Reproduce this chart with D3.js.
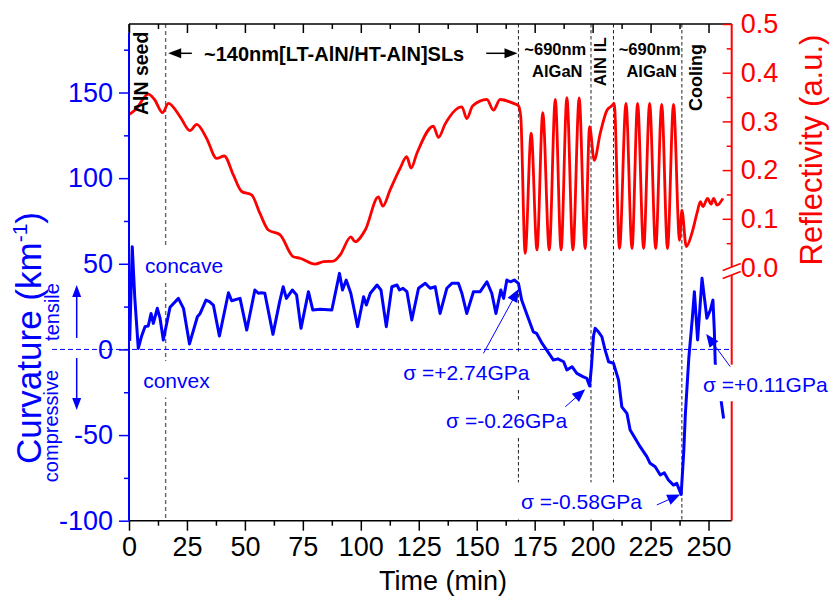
<!DOCTYPE html>
<html><head><meta charset="utf-8">
<script src="https://cdn.jsdelivr.net/npm/d3@7"></script>
<style>
body{margin:0;background:#fff}
svg{display:block}
text{font-family:"Liberation Sans",Arial,Helvetica,sans-serif}
</style>
</head><body>
<svg id="chart" width="831" height="601"></svg>
<script>
// In-situ wafer curvature (km^-1) versus growth time (min)
const curvTime = [0.3,1.4,2.5,4,5.5,6.9,8.3,9.5,10.5,12.2,13.4,14.8,17.7,21.3,23.5,26.1,29.5,30.7,33.2,34.7,36.4,39,42.9,44.3,47.9,50.8,54.3,55.8,57.1,58.6,62.1,65,66.5,67.9,70.5,72.3,74.2,77.4,79.3,82.5,87.5,90.8,92.1,93.7,95.7,98.6,101.2,102.4,104.1,107,108.7,111,113.4,115.6,116.7,118.2,119.9,122,124.9,127.8,129.9,132.1,134.2,137.1,139.3,142.1,143.6,145.7,148.6,151.5,154.4,156.5,158.3,160.4,161.6,163,164.5,166.2,168,169.4,171.5,174.4,175.8,178,180.2,183.1,185,187.5,188.9,191.1,193.2,195.8,197.5,198.7,199.5,200.4,201.1,202.5,204,205.4,206.9,209,211.2,212.6,214.8,216.2,220.5,223.4,224.8,227,229.2,230.9,232.7,234.9,236.3,238.2,239.3,240,241.5,243,243.9,245.3,247.2,249.3,250.8,251.9,252.5,252.9,255.5,256.5];
const curvValue = [5,60,30,0.6,8,13.3,13.7,21,15.2,24,18.2,5.5,24.6,29.8,24,3.2,19.1,21,28.8,27.9,25.9,7.8,33.1,28.4,29.8,11.3,34.7,32.8,33.1,32.8,8.8,27.9,36.6,29.8,34.7,31.8,12.3,33.7,23,23.4,23,44.4,34.7,40.5,32.8,13.3,30.8,25.9,32.8,37.6,34.7,13.3,36.6,37.6,34.7,35.7,33.7,17.2,35.7,38.6,35.7,36.6,21,35.7,38.6,38.6,32.8,21,33.7,33.7,39.5,32.8,21,34.7,29.8,40.5,39.5,40.5,38.6,28.8,21,10.3,9.4,4,-0.4,-6.2,-5.5,-7.2,-12,-10.1,-14,-15.9,-16.9,-21.4,-10,8,12.3,10.3,7.4,-0.4,-7.2,-8.1,-17.9,-33.5,-37.3,-47.1,-56.8,-62.6,-66.5,-68.5,-73.3,-72,-76.2,-79.2,-78.2,-84.6,-60,-38,-5,18,33.7,5.5,41.5,18.2,23,28.8,11.3,-8.1,-30.5,-40.3];

// Reflectivity (a.u.) versus growth time (min)
const reflTime = [0,3,8.3,11,14.5,17,22,26.3,29.2,33.5,37.8,41.1,45,48.6,52.9,56.5,60.1,65.2,70.9,73.8,80.3,83.9,88.2,91.1,95.7,97.5,101.9,107.6,109.5,112.6,117,119.8,121.7,124.2,131.3,133.5,136.4,143.6,145.7,148.3,154.4,157.2,160.1,165.9,168,169,170.9,173.5,176,178.5,181.3,183.9,186.4,188.9,191.5,194.2,196.8,198.7,200.7,203.3,206.2,208.3,209.3,211.6,214.4,217,219.4,222,224.6,227.2,229.8,232.3,234.9,237.5,238.5,240.4,242.8,245,246.5,247.6,249.6,251.1,252.2,253.7,256.2];
const reflValue = [0.314,0.325,0.356,0.345,0.318,0.337,0.31,0.281,0.294,0.265,0.224,0.229,0.19,0.156,0.149,0.111,0.077,0.067,0.022,0.019,0.007,0.012,0.013,0.026,0.063,0.053,0.077,0.145,0.126,0.159,0.204,0.2275,0.204,0.2345,0.29,0.267,0.295,0.33,0.306,0.332,0.345,0.323,0.345,0.337,0.332,0.31,0.029,0.276,0.036,0.318,0.036,0.345,0.036,0.349,0.036,0.348,0.039,0.289,0.22,0.276,0.323,0.332,0.337,0.039,0.337,0.039,0.337,0.039,0.337,0.039,0.335,0.039,0.335,0.056,0.118,0.043,0.07,0.111,0.135,0.125,0.142,0.13,0.142,0.128,0.142];

// Tick values
const timeTicks = [0,25,50,75,100,125,150,175,200,225,250];
const timeMinor = [12.5,37.5,62.5,87.5,112.5,137.5,162.5,187.5,212.5,237.5];
const curvTicks = [-100,-50,0,50,100,150];
const curvMinor = [-75,-25,25,75,125,175];
const reflTicks = [0,0.1,0.2,0.3,0.4,0.5];
const reflMinor = [0.05,0.15,0.25,0.35,0.45];

// Growth stage boundaries (min)
const stageBounds = [15.8,168,199.3,209,238.5];

// Stress labels: text, anchor (time, curvature), arrow tail and head
const stressText = ["σ =+2.74GPa","σ =-0.26GPa","σ =-0.58GPa","σ =+0.11GPa"];
const stressAt   = [[118.3,-17.9],[136.8,-45.7],[169.1,-93.4],[247.6,-24.7]];
const stressTail = [[152.9,-2.3],[188.2,-33.5],[227.7,-90.8],[259.4,-10.1]];
const stressHead = [[168.1,35.3],[196.8,-23.3],[237.8,-84.7],[249,9]];

const blue = "#0000ff", red = "#ff0000";
const svg = d3.select("#chart");

const x  = d3.scaleLinear().domain([0,260]).range([129,731.7]);
const yC = d3.scaleLinear().domain([-100,190]).range([520.7,24]);
const yR = d3.scaleLinear().domain([0,0.5]).range([267.5,24]);
const plotTop = 24, plotBottom = 520.7, plotLeft = x(0), plotRight = x(260);
const plain = d => String(d);   // hyphen-minus for negative ticks

// stage boundary lines
stageBounds.forEach((t,i)=>{
  svg.append("line").attr("x1",x(t)).attr("x2",x(t)).attr("y1",plotTop).attr("y2",plotBottom)
    .attr("stroke", i===0 ? "#666" : "#222").attr("stroke-width", i===0 ? 1.4 : 1)
    .attr("stroke-dasharray", i===0 ? "4,3" : "3.5,2.5");
});

// zero curvature reference
svg.append("line").attr("x1",52).attr("x2",plotRight).attr("y1",yC(0)).attr("y2",yC(0))
  .attr("stroke",blue).attr("stroke-width",1).attr("stroke-dasharray","5,3");

// reflectivity trace
const reflData = reflTime.map((t,i)=>[t,reflValue[i]]);
svg.append("path").datum(reflData)
  .attr("fill","none").attr("stroke",red).attr("stroke-width",2.8).attr("stroke-linejoin","round")
  .attr("d", d3.line().x(d=>x(d[0])).y(d=>yR(d[1])).curve(d3.curveMonotoneX));

// curvature trace
const curvData = curvTime.map((t,i)=>[t,curvValue[i]]);
svg.append("path").datum(curvData)
  .attr("fill","none").attr("stroke",blue).attr("stroke-width",3).attr("stroke-linejoin","round")
  .attr("d", d3.line().x(d=>x(d[0])).y(d=>yC(d[1])));

function arrow(g,x1,y1,x2,y2,color,len,hw,w){
  const dx=x2-x1, dy=y2-y1, L=Math.hypot(dx,dy), ux=dx/L, uy=dy/L;
  const bx=x2-ux*len, by=y2-uy*len;
  g.append("line").attr("x1",x1).attr("y1",y1).attr("x2",bx+ux*1).attr("y2",by+uy*1)
    .attr("stroke",color).attr("stroke-width",w);
  g.append("path").attr("d",`M${x2},${y2}L${bx-uy*hw},${by+ux*hw}L${bx+uy*hw},${by-ux*hw}Z`)
    .attr("fill",color);
}

// ---- axes ----
// frame top
svg.append("line").attr("x1",plotLeft).attr("x2",plotRight).attr("y1",plotTop).attr("y2",plotTop).attr("stroke","#000").attr("stroke-width",1.5);
const topAx = svg.append("g").attr("transform",`translate(0,${plotTop})`)
  .call(d3.axisTop(x).tickValues(timeTicks).tickSize(-9).tickFormat(""));
const topMin = svg.append("g").attr("transform",`translate(0,${plotTop})`)
  .call(d3.axisTop(x).tickValues(timeMinor).tickSize(-5).tickFormat(""));
[topAx,topMin].forEach(g=>{g.select(".domain").remove();g.selectAll("line").attr("stroke","#000").attr("stroke-width",1.5);});

// bottom
const botAx = svg.append("g").attr("transform",`translate(0,${plotBottom})`)
  .call(d3.axisBottom(x).tickValues(timeTicks).tickSize(10).tickPadding(6).tickFormat(plain));
const botMin = svg.append("g").attr("transform",`translate(0,${plotBottom})`)
  .call(d3.axisBottom(x).tickValues(timeMinor).tickSize(5).tickFormat(""));
[botAx,botMin].forEach(g=>{g.select(".domain").remove();g.selectAll("line").attr("stroke","#000").attr("stroke-width",1.5);});
botAx.selectAll("text").attr("font-size",27).attr("fill","#000").attr("font-family","'Liberation Sans',Arial,sans-serif");
svg.append("line").attr("x1",plotLeft).attr("x2",plotRight).attr("y1",plotBottom).attr("y2",plotBottom).attr("stroke","#000").attr("stroke-width",1.5);

// left (curvature)
svg.append("line").attr("x1",plotLeft).attr("x2",plotLeft).attr("y1",plotTop).attr("y2",yC(185)).attr("stroke","#000").attr("stroke-width",1.5);
svg.append("line").attr("x1",plotLeft).attr("x2",plotLeft).attr("y1",yC(185)).attr("y2",plotBottom).attr("stroke",blue).attr("stroke-width",2);
const lAx = svg.append("g").attr("transform",`translate(${plotLeft},0)`)
  .call(d3.axisLeft(yC).tickValues(curvTicks).tickSize(10).tickPadding(6).tickFormat(plain));
const lMin = svg.append("g").attr("transform",`translate(${plotLeft},0)`)
  .call(d3.axisLeft(yC).tickValues(curvMinor).tickSize(5).tickFormat(""));
[lAx,lMin].forEach(g=>{g.select(".domain").remove();g.selectAll("line").attr("stroke",blue).attr("stroke-width",1.5);});
lAx.selectAll("text").attr("font-size",27).attr("fill",blue).attr("font-family","'Liberation Sans',Arial,sans-serif");

// right (reflectivity) with axis break at zero
const brk = 271;
svg.append("line").attr("x1",plotRight).attr("x2",plotRight).attr("y1",plotTop).attr("y2",brk-4).attr("stroke",red).attr("stroke-width",2);
svg.append("line").attr("x1",plotRight).attr("x2",plotRight).attr("y1",brk+4).attr("y2",plotBottom).attr("stroke",red).attr("stroke-width",2);
[-4,4].forEach(o=>{
  svg.append("line").attr("x1",plotRight-9).attr("y1",brk+o+3.5).attr("x2",plotRight+9).attr("y2",brk+o-3.5)
    .attr("stroke",red).attr("stroke-width",1.5);
});
const rAx = svg.append("g").attr("transform",`translate(${plotRight},0)`)
  .call(d3.axisRight(yR).tickValues(reflTicks.filter(v=>v>0)).tickSize(-9).tickPadding(9).tickFormat(d3.format(".1f")));
const rZero = svg.append("g").attr("transform",`translate(${plotRight},0)`)
  .call(d3.axisRight(yR).tickValues([0]).tickSize(0).tickPadding(9).tickFormat(d3.format(".1f")));
const rMin = svg.append("g").attr("transform",`translate(${plotRight},0)`)
  .call(d3.axisRight(yR).tickValues(reflMinor).tickSize(-5).tickFormat(""));
[rAx,rZero,rMin].forEach(g=>{g.select(".domain").remove();g.selectAll("line").attr("stroke",red).attr("stroke-width",1.5);});
[rAx,rZero].forEach(g=>g.selectAll("text").attr("font-size",27).attr("fill",red).attr("font-family","'Liberation Sans',Arial,sans-serif"));

// ---- labels on white boxes (above the axes so the boxes mask what lies behind) ----
function boxedLabel(txt,px,py,fs,color){
  const g = svg.append("g");
  const r = g.append("rect").attr("fill","#fff");
  const t = g.append("text").attr("x",px).attr("y",py).attr("font-size",fs).attr("fill",color).text(txt);
  const w = t.node().getComputedTextLength();
  r.attr("x",px-4).attr("width",w+8).attr("y",py-0.716*fs-12).attr("height",0.716*fs+21.5);
  return g;
}

boxedLabel("concave", x(6.9), yC(44.6), 21, blue);
boxedLabel("convex", x(6.1), yC(-22.5), 21, blue);

stressText.forEach((s,i)=>{
  boxedLabel(s, x(stressAt[i][0]), yC(stressAt[i][1]), 21, blue);
});
stressText.forEach((s,i)=>{
  arrow(svg, x(stressTail[i][0]), yC(stressTail[i][1]), x(stressHead[i][0]), yC(stressHead[i][1]), blue, 13, 5.5, 1);
});

// ---- axis titles ----
svg.append("text").attr("x",443).attr("y",590).attr("text-anchor","middle").attr("font-size",27).attr("fill","#000").text("Time (min)");

const lt = svg.append("text").attr("transform","translate(41,338) rotate(-90)").attr("text-anchor","middle")
  .attr("font-size",35).attr("fill",blue);
lt.append("tspan").text("Curvature (km");
lt.append("tspan").attr("font-size",21).attr("dy",-14).text("-1");
lt.append("tspan").attr("dy",14).text(")");

svg.append("text").attr("transform","translate(822,150) rotate(-90)").attr("text-anchor","middle")
  .attr("font-size",31).attr("fill",red).text("Reflectivity (a.u.)");

// tensile / compressive
svg.append("text").attr("transform","translate(59,312) rotate(-90)").attr("text-anchor","middle")
  .attr("font-size",20).attr("fill",blue).text("tensile");
svg.append("text").attr("transform","translate(58,426) rotate(-90)").attr("text-anchor","middle")
  .attr("font-size",20).attr("fill",blue).text("compressive");
arrow(svg, 76.7, 338, 76.7, 285, blue, 12, 4.5, 1.5);
arrow(svg, 76.7, 358, 76.7, 410, blue, 12, 4.5, 1.5);

// ---- growth stage labels ----
svg.append("text").attr("transform","translate(148,73.4) rotate(-90)").attr("text-anchor","middle")
  .attr("font-size",19.5).attr("font-weight","bold").attr("fill","#000").text("AlN seed");
svg.append("text").attr("x",204).attr("y",61).attr("font-size",20).attr("font-weight","bold").attr("fill","#000")
  .text("~140nm[LT-AlN/HT-AlN]SLs");
arrow(svg, x(27.1), 53.3, x(16.9), 53.3, "#000", 13, 5, 1.5);
arrow(svg, x(154.1), 53.3, x(167.6), 53.3, "#000", 13, 5, 1.5);

[183.9,224.6].forEach(c=>{
  svg.append("text").attr("x",x(c)).attr("y",55).attr("text-anchor","middle").attr("font-size",16.5)
    .attr("font-weight","bold").attr("fill","#000").text("~690nm");
  svg.append("text").attr("x",x(c)+2).attr("y",77.3).attr("text-anchor","middle").attr("font-size",16.5)
    .attr("font-weight","bold").attr("fill","#000").text("AlGaN");
});
svg.append("text").attr("transform","translate(606,61.7) rotate(-90)").attr("text-anchor","middle")
  .attr("font-size",17).attr("font-weight","bold").attr("fill","#000").text("AlN IL");
svg.append("text").attr("transform","translate(702,77.5) rotate(-90)").attr("text-anchor","middle")
  .attr("font-size",18).attr("font-weight","bold").attr("fill","#000").text("Cooling");
</script>
</body></html>
